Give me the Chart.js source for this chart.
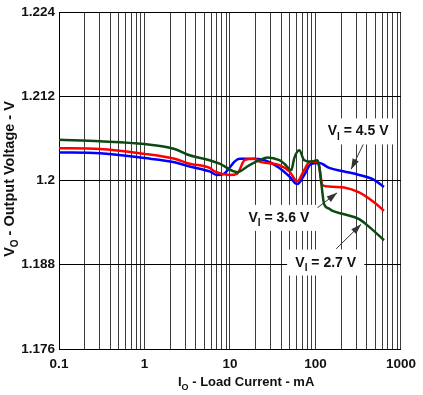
<!DOCTYPE html>
<html>
<head>
    <title>Output Voltage vs Load Current</title>
    <script src="https://cdn.jsdelivr.net/npm/chart.js"></script>
    <style>
        body { margin: 0; background: #fff; }
        #wrap { width: 423px; height: 395px; position: relative; }
    </style>
</head>
<body>
    <div id="wrap"><canvas id="loadChart"></canvas></div>
    <script>
        // load current (mA) and output voltage (V)
        const current27 = [0.1, 0.3, 1.0, 2.25, 3.37, 5.77, 7.55, 12.2, 16.9, 22.1, 27.4, 37.8, 43.2, 52.1, 56.5, 64.6, 73.9, 89.2, 104.8, 110.6, 116.7, 126.5, 144.6, 156.8, 216, 324, 424, 633];
        const vout27    = [1.2058, 1.2056, 1.2052, 1.2045, 1.2036, 1.2029, 1.2024, 1.2012, 1.2022, 1.2029, 1.2033, 1.2029, 1.2024, 1.2015, 1.2032, 1.2043, 1.2029, 1.2027, 1.2029, 1.2020, 1.1997, 1.1966, 1.1960, 1.1957, 1.1952, 1.1945, 1.1934, 1.1915];

        const current36 = [0.1, 0.3, 1.0, 2.25, 3.37, 5.77, 6.6, 9.87, 12.2, 14.8, 19.3, 22.1, 37.8, 49.4, 61.2, 73.9, 84.5, 104.8, 110.6, 119.9, 133.5, 156.8, 216, 324, 484, 633];
        const vout36    = [1.2046, 1.2045, 1.2038, 1.2031, 1.2024, 1.2018, 1.2013, 1.2008, 1.2010, 1.2029, 1.2031, 1.2027, 1.2022, 1.2013, 1.1999, 1.2015, 1.2026, 1.2027, 1.2020, 1.1994, 1.1992, 1.1991, 1.1990, 1.1983, 1.1969, 1.1957];

        const current45 = [0.1, 0.3, 1.0, 2.25, 3.37, 5.77, 7.0, 8.6, 10.0, 11.3, 13.0, 16.9, 25.3, 37.8, 49.4, 61.2, 73.9, 89.2, 110.6, 144.6, 216, 324, 484, 633];
        const vout45    = [1.2040, 1.2039, 1.2032, 1.2026, 1.2020, 1.2013, 1.2008, 1.2010, 1.2019, 1.2027, 1.2031, 1.2031, 1.2029, 1.2018, 1.2006, 1.1995, 1.2008, 1.2024, 1.2025, 1.2018, 1.2013, 1.2008, 1.2001, 1.1991];

        const xTickLabels = ['0.1', '1', '10', '100', '1000'];
        const yTicks = [1.176, 1.188, 1.2, 1.212, 1.224];

        // callouts: label centre, arrow start, arrow tip (data units)
        const callouts = [
            { sub: 'I', text: ' = 4.5 V', at: [315, 1.2070], from: [380, 1.20567], to: [261, 1.20161] },
            { sub: 'I', text: ' = 3.6 V', at: [37.3, 1.19468], from: [80.1, 1.19503], to: [179, 1.19825] },
            { sub: 'I', text: ' = 2.7 V', at: [131.7, 1.18832], from: [174.6, 1.19027], to: [341.7, 1.19377] }
        ];

        function pts(xs, ys) {
            return xs.map((x, i) => ({ x: x, y: ys[i] }));
        }

        // text with one subscript run, drawn at (x, baseline)
        function drawSubText(ctx, x, y, size, main, sub, rest, align) {
            const big = 'bold ' + size + 'px Arial, "Liberation Sans", sans-serif';
            const small = 'bold ' + Math.round(size * 0.72) + 'px Arial, "Liberation Sans", sans-serif';
            ctx.font = big;
            const w1 = ctx.measureText(main).width;
            const w3 = ctx.measureText(rest).width;
            ctx.font = small;
            const w2 = ctx.measureText(sub).width;
            const total = w1 + w2 + w3;
            let sx = align === 'center' ? x - total / 2 : x;
            ctx.textAlign = 'left';
            ctx.textBaseline = 'alphabetic';
            ctx.font = big;
            ctx.fillText(main, sx, y);
            ctx.font = small;
            ctx.fillText(sub, sx + w1, y + size * 0.3);
            ctx.font = big;
            ctx.fillText(rest, sx + w1 + w2, y);
            return total;
        }

        const extrasPlugin = {
            id: 'extras',
            afterDatasetsDraw(chart) {
                const ctx = chart.ctx;
                const xs = chart.scales.x, ys = chart.scales.y;
                ctx.save();
                callouts.forEach(c => {
                    // arrow
                    const x0 = xs.getPixelForValue(c.from[0]), y0 = ys.getPixelForValue(c.from[1]);
                    const x1 = xs.getPixelForValue(c.to[0]), y1 = ys.getPixelForValue(c.to[1]);
                    ctx.strokeStyle = '#333';
                    ctx.lineWidth = 1;
                    ctx.beginPath();
                    ctx.moveTo(x0, y0);
                    ctx.lineTo(x1, y1);
                    ctx.stroke();
                    const ang = Math.atan2(y1 - y0, x1 - x0);
                    ctx.fillStyle = '#333';
                    ctx.beginPath();
                    ctx.moveTo(x1, y1);
                    ctx.lineTo(x1 - 11 * Math.cos(ang - 0.32), y1 - 11 * Math.sin(ang - 0.32));
                    ctx.lineTo(x1 - 11 * Math.cos(ang + 0.32), y1 - 11 * Math.sin(ang + 0.32));
                    ctx.closePath();
                    ctx.fill();
                    // label box
                    const cx = xs.getPixelForValue(c.at[0]), cy = ys.getPixelForValue(c.at[1]);
                    ctx.font = 'bold 14px Arial, "Liberation Sans", sans-serif';
                    const w = ctx.measureText('V' + c.text).width + 10 * 0.72 + 12;
                    ctx.fillStyle = '#fff';
                    ctx.fillRect(cx - w / 2, cy - 13, w, 26);
                    ctx.fillStyle = '#111';
                    drawSubText(ctx, cx, cy + 4, 14, 'V', c.sub, c.text, 'center');
                });
                ctx.restore();
            },
            afterDraw(chart) {
                const ctx = chart.ctx;
                ctx.save();
                ctx.fillStyle = '#111';
                // x axis title
                drawSubText(ctx, 178, 386, 13, 'I', 'O', ' - Load Current - mA', 'left');
                // y axis title
                ctx.translate(14, 179);
                ctx.rotate(-Math.PI / 2);
                drawSubText(ctx, 0, 0, 14.5, 'V', 'O', ' - Output Voltage - V', 'center');
                ctx.restore();
            }
        };

        const ctx = document.getElementById('loadChart').getContext('2d');
        const loadChart = new Chart(ctx, {
            type: 'line',
            data: {
                datasets: [{
                    label: 'VI = 2.7 V',
                    data: pts(current27, vout27),
                    borderColor: '#0d4a12',
                    borderWidth: 2.5,
                    pointRadius: 0,
                    cubicInterpolationMode: 'monotone',
                    fill: false
                },
                {
                    label: 'VI = 3.6 V',
                    data: pts(current36, vout36),
                    borderColor: '#ff0000',
                    borderWidth: 2.5,
                    pointRadius: 0,
                    cubicInterpolationMode: 'monotone',
                    fill: false
                },
                {
                    label: 'VI = 4.5 V',
                    data: pts(current45, vout45),
                    borderColor: '#0000ff',
                    borderWidth: 2.5,
                    pointRadius: 0,
                    cubicInterpolationMode: 'monotone',
                    fill: false
                }]
            },
            options: {
                responsive: true,
                maintainAspectRatio: false,
                animation: false,
                layout: { padding: { top: 6, right: 21, left: 0, bottom: 0 } },
                plugins: { legend: { display: false }, tooltip: { enabled: false } },
                scales: {
                    x: {
                        type: 'logarithmic',
                        min: 0.1,
                        max: 1000,
                        afterBuildTicks: (scale) => {
                            const ticks = [];
                            for (let e = -1; e < 3; e++) {
                                for (let k = 1; k < 10; k++) ticks.push({ value: k * Math.pow(10, e) });
                            }
                            ticks.push({ value: 1000 });
                            scale.ticks = ticks;
                        },
                        afterFit: (scale) => { scale.height = 46; },
                        grid: { color: '#3c3c3c', lineWidth: 1, drawTicks: false },
                        border: { color: '#000', width: 1 },
                        ticks: {
                            autoSkip: false,
                            maxRotation: 0,
                            padding: 7,
                            color: '#111',
                            font: { family: 'Arial, "Liberation Sans", sans-serif', size: 13.5, weight: 'bold' },
                            callback: (v) => {
                                const lg = Math.log10(v);
                                if (Math.abs(lg - Math.round(lg)) > 1e-6) return '';
                                return xTickLabels[Math.round(lg) + 1];
                            }
                        }
                    },
                    y: {
                        min: 1.176,
                        max: 1.224,
                        afterBuildTicks: (scale) => { scale.ticks = yTicks.map(v => ({ value: v })); },
                        afterFit: (scale) => { scale.width = 59; },
                        grid: { color: '#000', lineWidth: 1, drawTicks: false },
                        border: { color: '#000', width: 1 },
                        ticks: {
                            padding: 4,
                            color: '#111',
                            font: { family: 'Arial, "Liberation Sans", sans-serif', size: 13.5, weight: 'bold' },
                            callback: (v) => parseFloat(v.toFixed(3)).toString()
                        }
                    }
                }
            },
            plugins: [extrasPlugin]
        });
    </script>
</body>
</html>
